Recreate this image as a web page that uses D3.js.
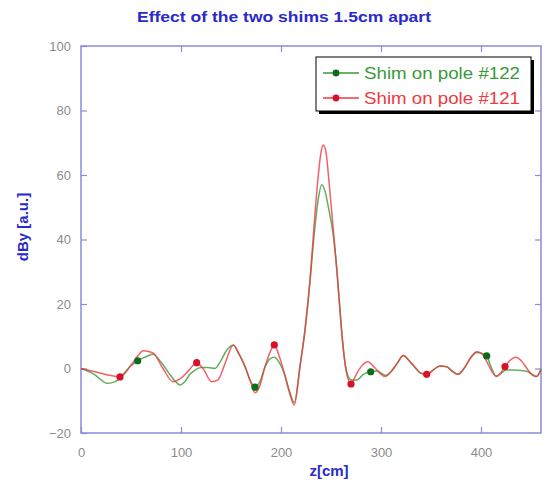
<!DOCTYPE html>
<html>
<head>
<meta charset="utf-8">
<script src="https://cdn.jsdelivr.net/npm/d3@7"></script>
<style>
  html, body { margin: 0; padding: 0; background: #ffffff; }
  svg { display: block; }
</style>
</head>
<body>
<svg id="chart" width="545" height="481"></svg>
<script>
// ---- data ----
const titleText = "Effect of the two shims 1.5cm apart";
const xLabel = "z[cm]";
const yLabel = "dBy [a.u.]";
const xTicks = [0, 100, 200, 300, 400];
const yTicks = [-20, 0, 20, 40, 60, 80, 100];
const xDomain = [0, 460];
const yDomain = [-20, 100];
const seriesNames = ["Shim on pole #122", "Shim on pole #121"];

// Shim on pole #122 (green): z [cm]
const greenZ = [0, 14, 20, 26, 32, 37, 43, 49, 56.7, 64, 72, 80, 88, 95, 99, 104, 109, 114, 120, 127,
  134, 140, 146, 152.3, 158, 164, 169, 174, 179, 184, 189, 193.3, 198, 203.3, 208, 213.3, 219, 224,
  229, 233, 237, 240.7, 244, 248, 252, 256, 259, 262, 266, 270, 275.7, 282.3, 289.7, 296, 305, 310,
  316, 322.3, 328, 335, 340, 346, 352, 359, 366, 371, 377, 383, 390, 395.7, 400, 405.7, 410, 415,
  420, 425, 432, 440, 447, 452, 456, 460];
// dBy [a.u.]
const greenY = [0, -2.0, -3.5, -4.6, -4.3, -3.5, -1.5, 0.6, 2.4, 3.5, 4.4, 2.0, -1.5, -4.2, -5.1, -4, -1.8, -0.5, 0.3, 0.3,
  0, 2.5, 5.8, 7.2, 4.5, 0.6, -3.5, -5.8, -4, 0.5, 3, 3.5, 2, -1.5, -6.5, -10.6, 0.8, 12,
  27, 41, 52, 57, 55, 49, 42, 30, 18, 7, -1.5, -3.5, -3.6, -1.8, -1.0, -0.8, -2.2, -1,
  1.5, 4.0, 2.5, 0, -1.5, -1.8, -0.5, 0.8, 0.5, -0.8, -1.8, 0, 3.5, 5.0, 4.8, 3.9, 0.5, -2.3,
  -1.5, -0.5, -0.5, -0.6, -1.0, -2.0, -2.5, 0];
const greenMarkerZ = [56.7, 174, 289.7, 405.7];

// Shim on pole #121 (red): z [cm]
const redZ = [0, 14, 27, 39, 50, 57, 62, 72, 82, 92, 100, 108, 115.7, 122, 130.7, 137, 144, 152.3,
  158, 164, 170, 174, 178, 184, 189, 193.3, 198, 203.3, 208, 213.3, 219, 224, 229, 233, 237, 240,
  242.3, 245, 248, 252, 256, 259, 262, 266, 270, 275, 280, 287, 293, 299, 304, 310, 316, 322.3,
  328, 335, 340, 345.7, 352, 359, 366, 371, 377, 383, 390, 395.7, 401, 406, 411, 415.7, 420, 424,
  430, 435, 440, 446, 451, 455, 460];
// dBy [a.u.]
const redY = [0, -1.0, -2.0, -2.6, 1.0, 4.0, 5.5, 4.8, 0, -4.1, -3.0, -0.5, 1.8, 0, -4.1, -3.5, 1.5, 7.3,
  4.5, 0.6, -4.5, -7.5, -6, 0.5, 5, 7.3, 4, -1.5, -7, -11.3, 0.6, 11.9, 27.4, 44, 59, 67,
  69.3, 67, 58, 44, 30, 18, 7, -2, -4.8, -2, 0.5, 2.1, 0.5, -1.5, -2.5, -1, 1.5, 4.0,
  2.5, 0, -1.5, -1.8, -0.5, 0.8, 0.5, -0.8, -1.8, 0, 3.5, 5.2, 4.5, 2, -1, -2.5, -1.2, 0.6,
  2.8, 3.5, 2.5, 0, -2, -2.5, -0.5];
const redMarkerZ = [39, 115.7, 193.3, 270, 345.7, 424];

// ---- styles ----
const axisColor = "#8a8ad8";
const tickTextColor = "#8c8c8c";
const labelBlue = "#2a2ac8";
const greenLine = "#3a9a3a";
const redLine = "#ee3a40";
const greenMark = "#0f6a1e";
const redMark = "#d81028";

const svg = d3.select("#chart");
const M = { left: 81, right: 541, top: 46, bottom: 433 };

const x = d3.scaleLinear().domain(xDomain).range([M.left, M.right]);
const y = d3.scaleLinear().domain(yDomain).range([M.bottom, M.top]);

const series = [
  { name: seriesNames[0], z: greenZ, v: greenY, marks: greenMarkerZ, line: greenLine, mark: greenMark },
  { name: seriesNames[1], z: redZ, v: redY, marks: redMarkerZ, line: redLine, mark: redMark }
];

// frame
svg.append("rect")
  .attr("x", M.left).attr("y", M.top)
  .attr("width", M.right - M.left).attr("height", M.bottom - M.top)
  .attr("fill", "none").attr("stroke", axisColor).attr("stroke-width", 1.5);

function styleAxis(g, showText) {
  g.select(".domain").remove();
  g.selectAll(".tick line").attr("stroke", axisColor).attr("stroke-width", 1.2);
  g.selectAll(".tick text")
    .attr("fill", tickTextColor)
    .style("font-family", "Arial, 'Liberation Sans', sans-serif")
    .style("font-size", "13px")
    .style("display", showText ? null : "none");
}

svg.append("g").attr("transform", `translate(0,${M.bottom})`)
  .call(d3.axisBottom(x).tickValues(xTicks).tickSize(-6).tickPadding(15).tickFormat(d3.format("d")))
  .call(g => styleAxis(g, true));
svg.append("g").attr("transform", `translate(0,${M.top})`)
  .call(d3.axisTop(x).tickValues(xTicks.filter(d => d > 0)).tickSize(-6))
  .call(g => styleAxis(g, false));
svg.append("g").attr("transform", `translate(${M.left},0)`)
  .call(d3.axisLeft(y).tickValues(yTicks).tickSize(-6).tickPadding(10).tickFormat(d3.format("d")))
  .call(g => styleAxis(g, true));
svg.append("g").attr("transform", `translate(${M.right},0)`)
  .call(d3.axisRight(y).tickValues(yTicks.filter(d => d > -20 && d < 100)).tickSize(-6))
  .call(g => styleAxis(g, false));

// curves
const line = d3.line()
  .x(d => x(d[0])).y(d => y(d[1]))
  .curve(d3.curveMonotoneX);

series.forEach(s => {
  const pts = s.z.map((z, i) => [z, s.v[i]]);
  svg.append("path")
    .datum(pts)
    .attr("d", line)
    .attr("fill", "none")
    .attr("stroke", s.line)
    .attr("stroke-width", 1.5)
    .attr("stroke-opacity", 0.8);
});
series.forEach(s => {
  const pts = s.z.map((z, i) => [z, s.v[i]]).filter(p => s.marks.includes(p[0]));
  svg.selectAll(null).data(pts).enter().append("circle")
    .attr("cx", d => x(d[0])).attr("cy", d => y(d[1]))
    .attr("r", 3.6).attr("fill", s.mark);
});

// title & axis labels
svg.append("text")
  .attr("x", 284).attr("y", 22).attr("text-anchor", "middle")
  .attr("fill", labelBlue)
  .style("font-family", "Arial, 'Liberation Sans', sans-serif")
  .style("font-size", "15px").style("font-weight", "bold")
  .attr("textLength", 294).attr("lengthAdjust", "spacingAndGlyphs")
  .text(titleText);

svg.append("text")
  .attr("x", 329).attr("y", 476).attr("text-anchor", "middle")
  .attr("fill", labelBlue)
  .style("font-family", "Arial, 'Liberation Sans', sans-serif")
  .style("font-size", "15px").style("font-weight", "bold")
  .text(xLabel);

svg.append("text")
  .attr("transform", "translate(28,227) rotate(-90)")
  .attr("text-anchor", "middle")
  .attr("fill", labelBlue)
  .style("font-family", "Arial, 'Liberation Sans', sans-serif")
  .style("font-size", "15px").style("font-weight", "bold")
  .text(yLabel);

// legend
const lg = { x: 316, y: 57, w: 215, h: 54 };
svg.append("rect").attr("x", lg.x + 3).attr("y", lg.y + 3)
  .attr("width", lg.w).attr("height", lg.h).attr("fill", "#000");
svg.append("rect").attr("x", lg.x).attr("y", lg.y)
  .attr("width", lg.w).attr("height", lg.h)
  .attr("fill", "#fff").attr("stroke", "#000").attr("stroke-width", 1);

series.forEach((s, i) => {
  const cy = 73 + i * 25;
  svg.append("line").attr("x1", 323).attr("x2", 359).attr("y1", cy).attr("y2", cy)
    .attr("stroke", s.line).attr("stroke-width", 1.3);
  svg.append("circle").attr("cx", 336).attr("cy", cy).attr("r", 3.4).attr("fill", s.mark);
  svg.append("text").attr("x", 364).attr("y", cy + 6)
    .attr("fill", s.line)
    .style("font-family", "Arial, 'Liberation Sans', sans-serif")
    .style("font-size", "17px")
    .attr("textLength", 156).attr("lengthAdjust", "spacingAndGlyphs")
    .text(s.name);
});
</script>
</body>
</html>
